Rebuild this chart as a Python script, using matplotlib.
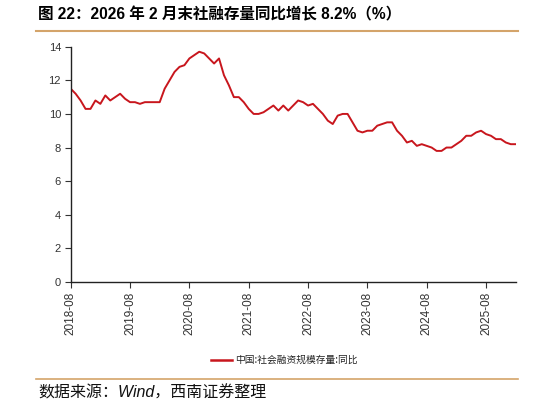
import numpy as np
import matplotlib
matplotlib.use("Agg")
import matplotlib.pyplot as plt
from matplotlib.lines import Line2D

plt.rcParams['font.family'] = ['Liberation Sans', 'Noto Sans CJK SC', 'DejaVu Sans']

# monthly, 2018-08 .. 2026-02
tsf_yoy = [11.5, 11.2, 10.8, 10.3, 10.3, 10.8, 10.6, 11.1, 10.8, 11.0, 11.2, 10.9,
           10.7, 10.7, 10.6, 10.7, 10.7, 10.7, 10.7, 11.5, 12.0, 12.5, 12.8, 12.9,
           13.3, 13.5, 13.7, 13.6, 13.3, 13.0, 13.3, 12.3, 11.7, 11.0, 11.0, 10.7,
           10.3, 10.0, 10.0, 10.1, 10.3, 10.5, 10.2, 10.5, 10.2, 10.5, 10.8, 10.7,
           10.5, 10.6, 10.3, 10.0, 9.6, 9.4, 9.9, 10.0, 10.0, 9.5, 9.0, 8.9,
           9.0, 9.0, 9.3, 9.4, 9.5, 9.5, 9.0, 8.7, 8.3, 8.4, 8.1, 8.2,
           8.1, 8.0, 7.8, 7.8, 8.0, 8.0, 8.2, 8.4, 8.7, 8.7, 8.9, 9.0,
           8.8, 8.7, 8.5, 8.5, 8.3, 8.2, 8.2]
tick_labels = ["2018-08", "2019-08", "2020-08", "2021-08",
               "2022-08", "2023-08", "2024-08", "2025-08"]
series_name = "中国:社会融资规模存量:同比"

W, H = 538, 407
fig = plt.figure(figsize=(W / 100, H / 100), dpi=100)

ax = fig.add_axes([70.7 / W, 1 - 282 / H, (515.7 - 70.7) / W, (282 - 46.7) / H])
x = np.arange(len(tsf_yoy))
ax.plot(x, tsf_yoy, color="#C8161D", lw=1.4)

ax.set_xlim(0, len(tsf_yoy) - 1)
ax.set_ylim(0, 14)
ax.set_yticks(np.arange(0, 15, 2))
ax.set_xticks(np.arange(0, 12 * len(tick_labels), 12))
ax.set_xticklabels(tick_labels, rotation=90)
ax.tick_params(axis='x', labelsize=8.5, colors="#333333", length=4, width=0.8, pad=3)
ax.tick_params(axis='y', labelsize=8, colors="#333333", length=4, width=0.8, pad=3)
for s in ["top", "right"]:
    ax.spines[s].set_visible(False)
for s in ["left", "bottom"]:
    ax.spines[s].set_color("#222222")
    ax.spines[s].set_linewidth(1.0)

# title and rules
fig.text(38 / W, 1 - 15 / H, "图 22：2026 年 2 月末社融存量同比增长 8.2%（%）",
         fontsize=11.2, fontweight="bold", va="center", ha="left",
         family=['Liberation Sans', 'Noto Sans CJK SC'])
fig.add_artist(Line2D([36 / W, 518 / W], [1 - 30.5 / H, 1 - 30.5 / H],
                      color="#D4A46A", lw=1.5))
fig.add_artist(Line2D([36 / W, 518 / W], [1 - 378.5 / H, 1 - 378.5 / H],
                      color="#D4A46A", lw=1.2))

# legend
fig.add_artist(Line2D([211 / W, 232 / W], [1 - 360 / H, 1 - 360 / H],
                      color="#C8161D", lw=1.8))
fig.text(235 / W, 1 - 360 / H, series_name, fontsize=7, va="center", ha="left",
         color="#222222", family=['Noto Sans CJK SC'])

fig.text(38 / W, 1 - 393 / H, "数据来源：Wind，西南证券整理", fontsize=11.5,
         style="italic", va="center", ha="left", color="#111111",
         family=['Liberation Sans', 'Noto Sans CJK SC'])

fig.savefig("out.png", dpi=100)
